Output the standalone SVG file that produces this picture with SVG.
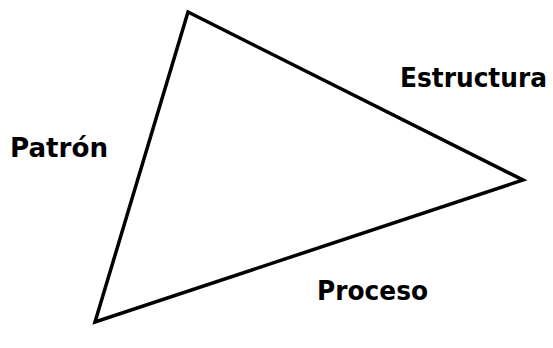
<svg xmlns="http://www.w3.org/2000/svg" width="553" height="348" viewBox="0 0 553 348">
<style>
.lbl{font-family:"DejaVu Sans","Verdana",sans-serif;font-weight:bold;font-size:27px;fill:#000}
.edge{fill:none;stroke:#000;stroke-width:3.5;stroke-linejoin:miter}
</style>
<rect width="553" height="348" fill="#fff"/>
<g id="connectors">
<polygon class="edge" points="188,12 523,180 95,322"/>
</g>
<g id="patron"><text class="lbl" x="10" y="157" textLength="98" lengthAdjust="spacingAndGlyphs">Patrón</text></g>
<g id="estructura"><text class="lbl" x="400" y="87" textLength="147" lengthAdjust="spacingAndGlyphs">Estructura</text></g>
<g id="proceso"><text class="lbl" x="317" y="300" textLength="111" lengthAdjust="spacingAndGlyphs">Proceso</text></g>
</svg>
